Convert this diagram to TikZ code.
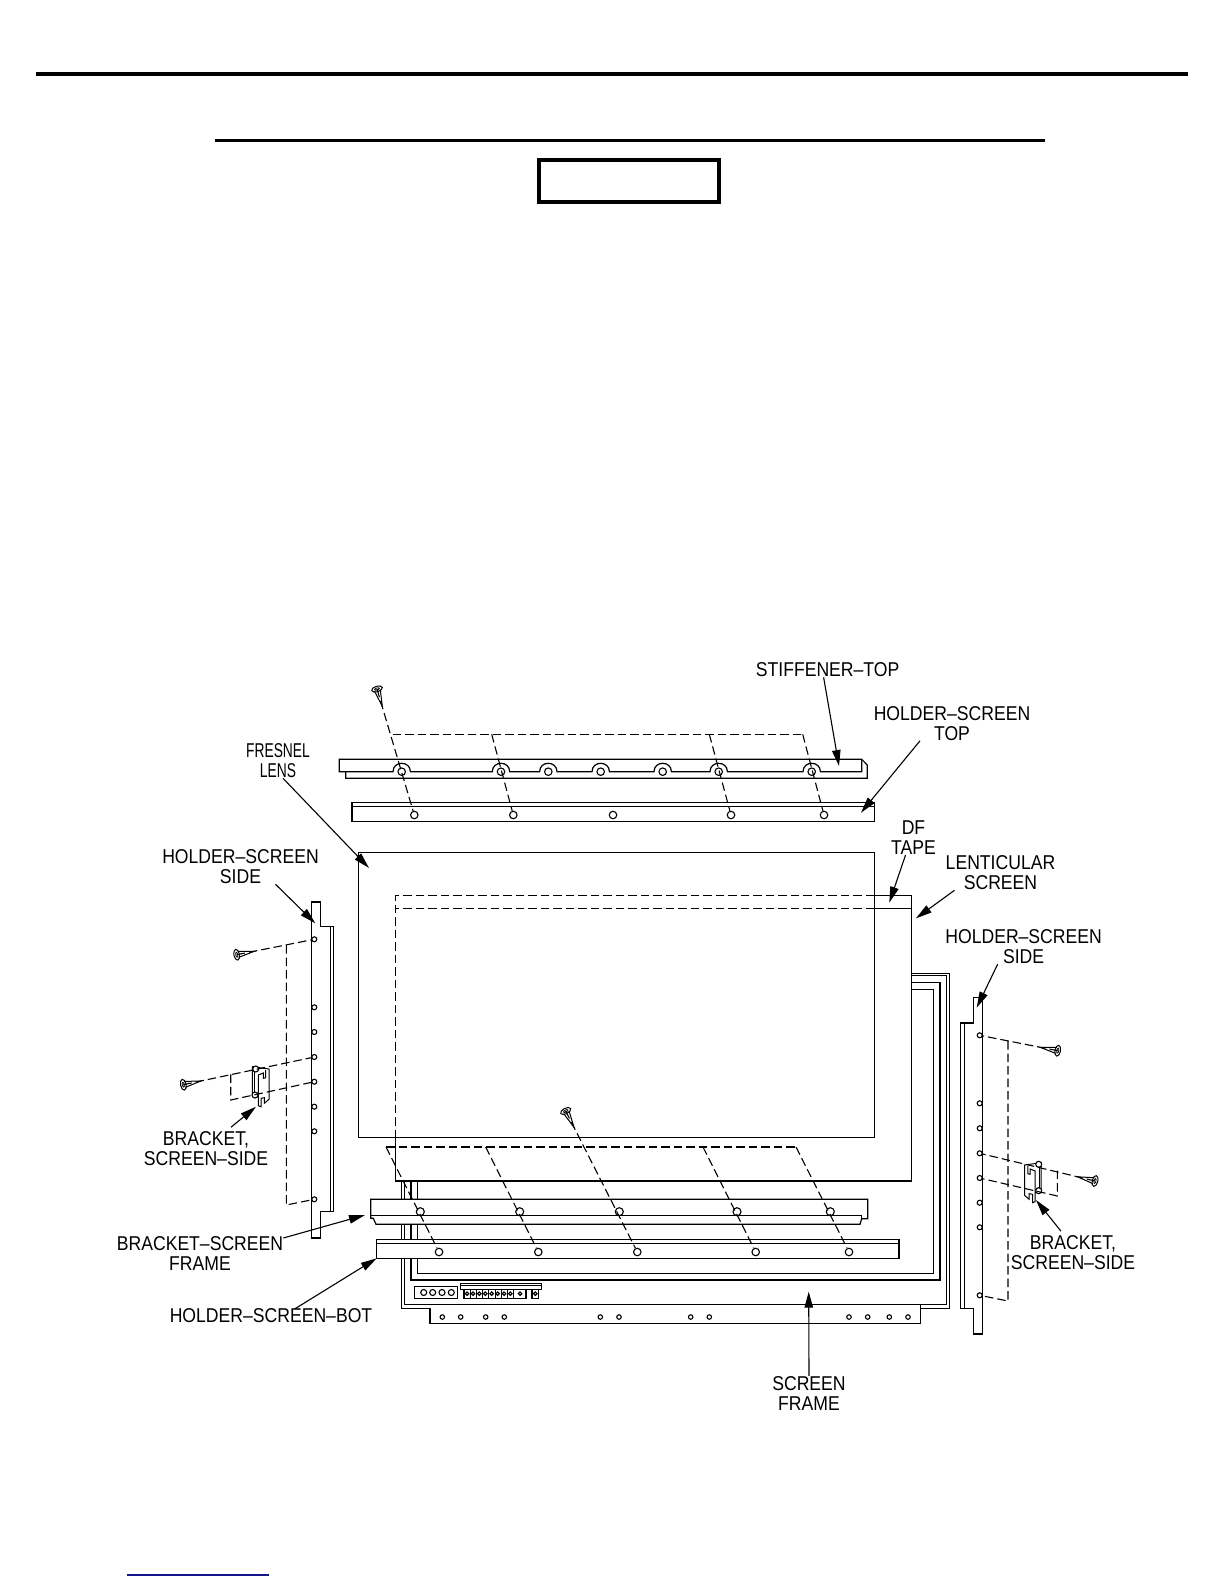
\documentclass[tikz,border=0pt]{standalone}
\usepackage{fontspec}
\usetikzlibrary{arrows.meta}
\newfontfamily\labelfont[FakeStretch=0.88]{Liberation Sans}
\newfontfamily\narrowfont[FakeStretch=0.69]{Liberation Sans}
\tikzset{
  part/.style={line width=1.2pt},
  frameline/.style={line width=1pt},
  hidden/.style={line width=1.1pt,dash pattern=on 8.5pt off 4pt},
  hole/.style={circle,draw,fill=white,line width=1.1pt,inner sep=0pt,minimum size=7.5pt},
  pin/.style={circle,draw,fill=white,line width=1.1pt,inner sep=0pt,minimum size=5pt},
  callout/.style={font=\labelfont\fontsize{20}{20}\selectfont,align=center,inner sep=0pt},
  leader/.style={line width=1.1pt,-{Triangle[length=16pt,width=8.5pt]}},
  pics/screw/.style={code={
    \draw[line width=1pt] (0,0) ellipse (2.8 and 5.5);
    \draw[line width=.8pt] (0,0) ellipse (1 and 2.5);
    \draw[line width=1pt] (1.5,3) -- (18,0) -- (1.5,-3);
  }},
  pics/bracketside/.style={code={
    \draw[line width=1pt,fill=white] (0,0) -- (16.7,2.3) -- (16.7,32.6) -- (12,36.6) -- (12,31) -- (8.7,31.6) -- (8.7,40)
      -- (6,39) -- (6,30) -- (0,27.6) -- cycle;
    \draw[line width=1pt] (6,30) -- (6,8.3) -- (11,6.3) -- (11,11.6) -- (13.4,11) -- (13.4,3.3);
    \draw[line width=1pt] (2,0.3) -- (2,28);
  }}
}

\begin{document}
\begin{tikzpicture}[x=1pt,y=-1pt]
  \useasboundingbox (0,0) rectangle (1224,1584);
  % Page rules and the empty box
  \draw[line width=4pt] (36,74) -- (1188,74);
  \draw[line width=3pt] (215,140.5) -- (1045,140.5);
  \draw[line width=4pt] (538.5,160) rectangle (719,202);
  \draw[line width=1.2pt,color={rgb,255:red,20;green,20;blue,140}] (127,1575) -- (269,1575);

  % Screen frame
  \draw[frameline] (911.3,973.3) -- (949,973.3) -- (949,1308.3) -- (920.7,1308.3);
  \draw[frameline] (430,1308.3) -- (401.7,1308.3) -- (401.7,1181);
  \draw[frameline] (911.3,975.7) -- (946,975.7) -- (946,1304.5) -- (404.3,1304.5) -- (404.3,1181);
  \draw[part] (911.3,982.7) -- (940,982.7) -- (940,1280) -- (411,1280) -- (411,1181);
  \draw[part] (911.3,989.3) -- (933.7,989.3) -- (933.7,1273.5) -- (417.3,1273.5) -- (417.3,1181);
  \draw[part] (430,1308.3) -- (430,1323.3) -- (920.7,1323.3) -- (920.7,1304.5);
  \foreach \px in {442.3,460.7,485.7,504.3,600.3,619,690.7,709.3,849,867.7,889.3,908}
    \node[pin,minimum size=4.5pt] at (\px,1317) {};
  % Connector blocks on the frame
  \draw[part] (414.3,1286.7) rectangle (457.7,1298.3);
  \foreach \px in {423.7,432.7,442,451.3}
    \node[pin,minimum size=6pt] at (\px,1292.5) {};
  \draw[part] (460.3,1283.3) rectangle (541.7,1289.3);
  \draw[part] (460.3,1285.8) -- (541.7,1285.8);
  \draw[part] (464,1289.3) rectangle (526,1298.7);
  \foreach \px in {470,476,482,488.3,495,501,507.3,513.3}
    \draw[line width=1pt] (\px,1289.3) -- (\px,1298.7);
  \foreach \px in {467,473,479.3,485.3,491.7,497.7,504,510.3,520,535.3}
    \node[pin,minimum size=3.5pt] at (\px,1293.7) {};
  \draw[part] (532,1289.3) rectangle (538.7,1298.7);

  % Lenticular screen and DF tape
  \draw[part] (395.7,1137.7) -- (395.7,1181) -- (911.3,1181) -- (911.3,895.7) -- (874.3,895.7);
  \draw[part] (911.3,908.3) -- (874.3,908.3);
  \draw[hidden] (874.3,895.7) -- (395.7,895.7) -- (395.7,1137.7);
  \draw[hidden] (874.3,908.3) -- (395.7,908.3);
  % Fresnel lens
  \draw[part] (358.5,852.3) rectangle (874.3,1137.7);

  % Stiffener top
  \draw[part] (345.7,771.7) -- (339.3,771.7) -- (339.3,759.3) -- (861.7,759.3) -- (867.3,765) -- (867.3,778.3) -- (345.7,778.3) -- (345.7,771.7);
  \draw[part] (345.7,771.7) foreach \cx in {401.7,501,548.3,600.7,662.7,718.7,811.7}
    { -- (\cx-8.7,771.7) .. controls (\cx-8.7,760.5) and (\cx+8.7,760.5) .. (\cx+8.7,771.7) } -- (861.7,771.7) -- (861.7,759.3);
  \foreach \name/\px in {stiffa/401.7,stiffb/501,stiffc/548.3,stiffd/600.7,stiffe/662.7,stifff/718.7,stiffg/811.7}
    \node[hole] (\name) at (\px,771.7) {};
  % Holder screen top
  \draw[part] (352,802.7) rectangle (874.3,821.7);
  \draw[line width=1pt] (352,806) -- (874.3,806);
  \foreach \name/\px in {topa/414.3,topb/513.3,topc/613,topd/731,tope/824}
    \node[hole] (\name) at (\px,815) {};
  % Bracket screen frame
  \draw[part,fill=white] (370.7,1199.3) -- (867.7,1199.3) -- (867.7,1218.7) -- (861.7,1218.7) -- (860,1224.3) -- (376,1224.3) -- (373.3,1218.3) -- (370.7,1218.3) -- cycle;
  \draw[part] (370.7,1215.3) -- (861.7,1215.3) -- (861.7,1218.7);
  \foreach \name/\px in {brka/420.3,brkb/519.7,brkc/619.3,brkd/737,brke/830.3}
    \node[hole,minimum size=8pt] (\name) at (\px,1211.7) {};
  % Holder screen bottom
  \draw[part,fill=white] (376.7,1239.7) rectangle (899,1258.3);
  \draw[line width=1pt] (376.7,1243) -- (899,1243);
  \foreach \name/\px in {bota/439,botb/538.3,botc/637.3,botd/755.7,bote/849}
    \node[hole] (\name) at (\px,1252) {};

  % Holder screen sides
  \draw[part] (311.3,1238) -- (311.3,902) -- (320.7,902) -- (320.7,926.3) -- (333.3,926.3) -- (333.3,1211.7) -- (320.7,1211.7) -- (320.7,1238) -- cycle;
  \draw[line width=1pt] (330,926.3) -- (330,1211.7);
  \foreach \name/\py in {lefta/939.3,leftb/1007.3,leftc/1032,leftd/1057,lefte/1081.7,leftf/1106.7,leftg/1131.3,lefth/1199.3}
    \node[pin] (\name) at (314.3,\py) {};
  \draw[part] (982.3,1334) -- (982.3,997.7) -- (973.3,997.7) -- (973.3,1023) -- (960.7,1023) -- (960.7,1308.3) -- (973.3,1308.3) -- (973.3,1334) -- cycle;
  \draw[line width=1pt] (964.3,1023) -- (964.3,1308.3);
  \foreach \name/\py in {righta/1035.3,rightb/1103.3,rightc/1128.3,rightd/1153.3,righte/1178,rightf/1202.7,rightg/1227.3,righth/1295.3}
    \node[pin] (\name) at (979.7,\py) {};

  % Side brackets
  \pic at (252.3,1066.7) {bracketside};
  \pic[xscale=-1] at (1041.2,1162.7) {bracketside};
  \node[pin,minimum size=6pt] (brlefta) at (255.7,1069) {};
  \node[pin,minimum size=6pt] (brleftb) at (255,1095) {};
  \node[pin,minimum size=6pt] (brrighta) at (1038.7,1164.3) {};
  \node[pin,minimum size=6pt] (brrightb) at (1038.7,1190.7) {};

  % Screws
  \coordinate (screwtop) at (377,689);
  \coordinate (screwleftup) at (236.7,954.7);
  \coordinate (screwleftlow) at (183.3,1084.7);
  \coordinate (screwrightup) at (1057.7,1050.7);
  \coordinate (screwrightlow) at (1095,1181);
  \coordinate (screwbot) at (565.7,1111);
  \pic[rotate=-73] at (screwtop) {screw};
  \pic[rotate=11] at (screwleftup) {screw};
  \pic[rotate=12] at (screwleftlow) {screw};
  \pic[rotate=169] at (screwrightup) {screw};
  \pic[rotate=166.5] at (screwrightlow) {screw};
  \pic[rotate=-63] at (screwbot) {screw};

  % Hidden lines, top group
  \coordinate (topdasha) at (392.7,734.3);
  \coordinate (topdashb) at (491.7,734.3);
  \coordinate (topdashd) at (709.3,734.3);
  \coordinate (topdashe) at (802.7,734.3);
  \draw[hidden] (screwtop) -- (topa);
  \draw[hidden] (topdasha) -- (topdashe);
  \draw[hidden] (topdashb) -- (topb);
  \draw[hidden] (topdashd) -- (topd);
  \draw[hidden] (topdashe) -- (tope);
  % Hidden lines, bottom group
  \coordinate (botdasha) at (386,1147);
  \coordinate (botdashb) at (485.7,1147);
  \coordinate (botdashd) at (703,1147);
  \coordinate (botdashe) at (796,1147);
  \draw[hidden] (botdasha) -- (botdashe);
  \draw[hidden] (botdasha) -- (bota);
  \draw[hidden] (botdashb) -- (botb);
  \draw[hidden] (screwbot) -- (botc);
  \draw[hidden] (botdashd) -- (botd);
  \draw[hidden] (botdashe) -- (bote);
  % Hidden lines, left side
  \coordinate (leftdashup) at (286.3,945);
  \coordinate (leftdashlow) at (286.3,1205);
  \coordinate (brdashlefta) at (230.7,1074.3);
  \coordinate (brdashleftb) at (230.7,1100);
  \draw[hidden] (screwleftup) -- (lefta);
  \draw[hidden] (leftdashup) -- (leftdashlow) -- (lefth);
  \draw[hidden] (screwleftlow) -- (leftd);
  \draw[hidden] (brdashlefta) -- (brdashleftb) -- (lefte);
  % Hidden lines, right side
  \coordinate (rightdashup) at (1008,1041);
  \coordinate (rightdashlow) at (1008,1301);
  \coordinate (brdashrighta) at (1057.3,1170.7);
  \coordinate (brdashrightb) at (1057.3,1196);
  \draw[hidden] (screwrightup) -- (righta);
  \draw[hidden] (rightdashup) -- (rightdashlow) -- (righth);
  \draw[hidden] (screwrightlow) -- (rightd);
  \draw[hidden] (brdashrighta) -- (brdashrightb) -- (righte);

  % Labels
  \node[callout] (stifflabel) at (827.6,670) {STIFFENER–TOP};
  \node[callout] (holdertoplabel) at (952,723.5) {HOLDER–SCREEN\\TOP};
  \node[callout,font=\narrowfont\fontsize{20}{20}\selectfont] (fresnellabel) at (278,761) {FRESNEL\\LENS};
  \node[callout] (holderleftlabel) at (240.5,867) {HOLDER–SCREEN\\SIDE};
  \node[callout] (dflabel) at (913.5,838) {DF\\TAPE};
  \node[callout] (lentlabel) at (1000.5,873) {LENTICULAR\\SCREEN};
  \node[callout] (holderrightlabel) at (1023.6,947) {HOLDER–SCREEN\\SIDE};
  \node[callout] (brleftlabel) at (206,1148.5) {BRACKET,\\SCREEN–SIDE};
  \node[callout] (brrightlabel) at (1073,1252.5) {BRACKET,\\SCREEN–SIDE};
  \node[callout] (frameleftlabel) at (200,1254) {BRACKET–SCREEN\\FRAME};
  \node[callout] (holderbotlabel) at (271,1316) {HOLDER–SCREEN–BOT};
  \node[callout] (framelabel) at (809,1393) {SCREEN\\FRAME};

  % Arrows
  \coordinate (tipstiff) at (839,766);
  \coordinate (tipholdertop) at (861,812.7);
  \coordinate (tipfresnel) at (369,868);
  \coordinate (tipholderleft) at (315.3,923.3);
  \coordinate (tipdf) at (889.3,902.7);
  \coordinate (tiplent) at (916,918.3);
  \coordinate (tipholderright) at (976.7,1007.7);
  \coordinate (tipbrleft) at (256,1106.7);
  \coordinate (tipbrright) at (1036,1200);
  \coordinate (tipframeleft) at (365,1215);
  \coordinate (tipholderbot) at (376.7,1258.3);
  \coordinate (tipframe) at (808.7,1291.7);
  \draw[leader] ([xshift=-4pt]stifflabel.south) -- (tipstiff);
  \draw[leader] ([xshift=-32pt]holdertoplabel.south) -- (tipholdertop);
  \draw[leader] ([xshift=5pt]fresnellabel.south) -- (tipfresnel);
  \draw[leader] ([xshift=35pt]holderleftlabel.south) -- (tipholderleft);
  \draw[leader] ([xshift=-8pt]dflabel.south) -- (tipdf);
  \draw[leader] ([xshift=-46pt]lentlabel.south) -- (tiplent);
  \draw[leader] ([xshift=-26pt]holderrightlabel.south) -- (tipholderright);
  \draw[leader] ([xshift=25pt,yshift=4pt]brleftlabel.north) -- (tipbrleft);
  \draw[leader] ([xshift=-12pt,yshift=4pt]brrightlabel.north) -- (tipbrright);
  \draw[leader] ([yshift=16pt]frameleftlabel.east) -- (tipframeleft);
  \draw[leader] ([xshift=24pt]holderbotlabel.north) -- (tipholderbot);
  \draw[leader] (framelabel.north) -- (tipframe);
\end{tikzpicture}
\end{document}
